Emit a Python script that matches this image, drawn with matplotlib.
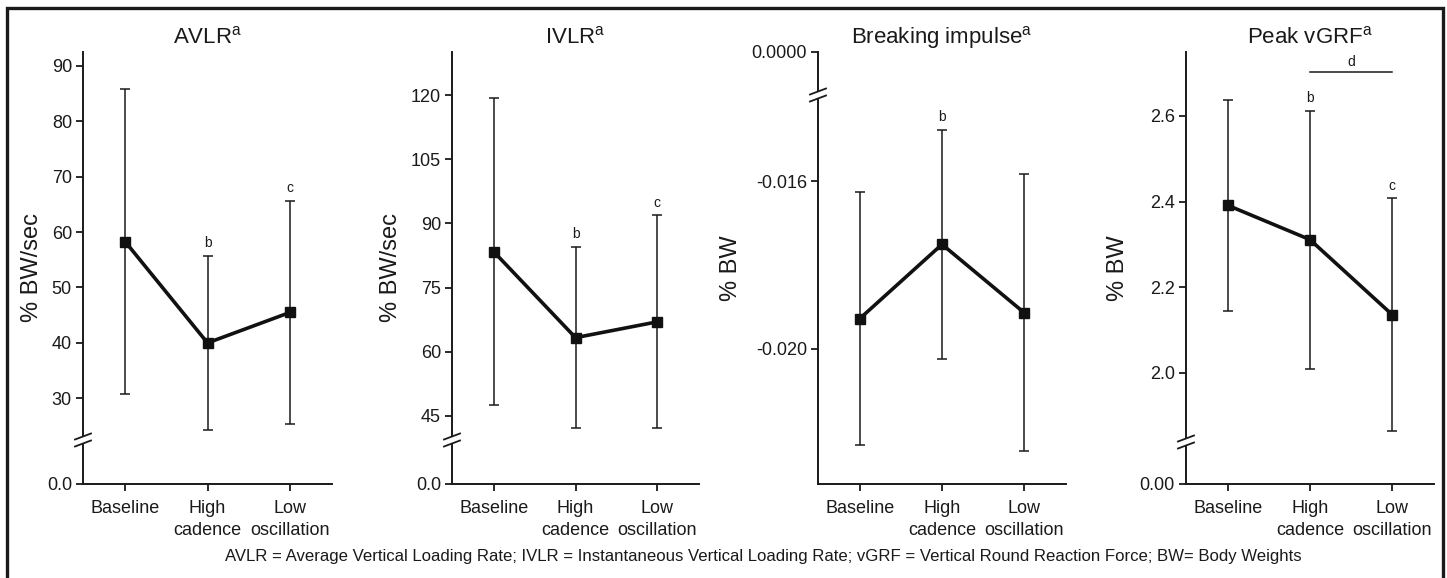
import numpy as np
import matplotlib.pyplot as plt
from matplotlib.lines import Line2D
from matplotlib.patches import Rectangle

plt.rcParams['font.family'] = ['Liberation Sans', 'DejaVu Sans']
plt.rcParams['mathtext.fontset'] = 'custom'
plt.rcParams['mathtext.rm'] = 'Liberation Sans'
plt.rcParams['axes.unicode_minus'] = False

INK = '#1a1a1a'

# conditions on the x axis
conditions = ["Baseline", "High\ncadence", "Low\noscillation"]

# mean and SD
avlr_mean = [58.3, 40.0, 45.5]
avlr_sd = [27.6, 15.7, 20.2]
ivlr_mean = [83.4, 63.3, 67.0]
ivlr_sd = [35.9, 21.2, 24.9]
brake_mean = [-0.01928, -0.01751, -0.01914]
brake_sd = [0.00303, 0.00273, 0.00330]
vgrf_mean = [2.391, 2.311, 2.136]
vgrf_sd = [0.246, 0.301, 0.272]

avlr_letters = ["", "b", "c"]
ivlr_letters = ["", "b", "c"]
brake_letters = ["", "b", ""]
vgrf_letters = ["", "b", "c"]
vgrf_bracket = 2.703  # "d" line between High cadence and Low oscillation

footnote = ("AVLR = Average Vertical Loading Rate; IVLR = Instantaneous Vertical Loading Rate; "
            "vGRF = Vertical Round Reaction Force; BW= Body Weights")

W, H = 1447, 578
fig = plt.figure(figsize=(W / 100, H / 100), dpi=100)


def rect(x0, x1, y0, y1):
    # pixel box (top-left origin) -> figure fraction
    return [x0 / W, 1 - y1 / H, (x1 - x0) / W, (y1 - y0) / H]


def style(ax, bottom=True):
    for s in ['top', 'right']:
        ax.spines[s].set_visible(False)
    ax.spines['left'].set_linewidth(1.4)
    ax.spines['bottom'].set_linewidth(1.4)
    ax.spines['left'].set_color(INK)
    ax.spines['bottom'].set_color(INK)
    if not bottom:
        ax.spines['bottom'].set_visible(False)
        ax.set_xticks([])
    ax.tick_params(direction='out', length=5, width=1.3, labelsize=13,
                   colors=INK, pad=3)
    ax.tick_params(axis='x', pad=6.5)
    ax.set_xlim(-0.51, 2.51)
    ax.patch.set_alpha(0)


def break_marks(xpx, ypx):
    for dy in (-3.5, 3.5):
        fig.add_artist(Line2D([(xpx - 8) / W, (xpx + 8) / W],
                              [1 - (ypx + dy + 3) / H, 1 - (ypx + dy - 3) / H],
                              color=INK, lw=1.3))


def draw_data(ax, mean, sd, letters):
    x = np.arange(len(mean))
    ax.errorbar(x, mean, yerr=sd, fmt='none', ecolor=INK, elinewidth=1.1,
                capsize=3.5, capthick=1.1)
    ax.plot(x, mean, '-s', color='#111111', lw=2.6, ms=6.5)
    for i, lab in enumerate(letters):
        if lab:
            ax.annotate(lab, (i, mean[i] + sd[i]), xytext=(0, 4),
                        textcoords='offset points', ha='center', va='bottom',
                        fontsize=10, color=INK)


def set_xcats(ax):
    ax.set_xticks(range(len(conditions)))
    ax.set_xticklabels(conditions, fontsize=13, linespacing=1.35)


def title(x0, x1, text):
    fig.text((x0 + x1) / 2 / W, 1 - 43 / H, text, ha='center', va='baseline',
             fontsize=16, color=INK)


def ylabel(xpx, text):
    fig.text(xpx / W, 1 - 268 / H, text, rotation=90, ha='center', va='center',
             fontsize=17, color=INK)


# ---- panel 1: AVLR (break near the bottom)
ax = fig.add_axes(rect(83, 332, 52, 436))
style(ax, bottom=False)
draw_data(ax, avlr_mean, avlr_sd, avlr_letters)
ax.set_ylim(23.2, 92.5)
ax.set_yticks([30, 40, 50, 60, 70, 80, 90])
stub = fig.add_axes(rect(83, 332, 444, 484))
style(stub)
stub.set_ylim(0, 1)
stub.set_yticks([0])
stub.set_yticklabels(["0.0"])
set_xcats(stub)
break_marks(83, 440)
title(83, 332, r'AVLR$^{\rm a}$')
ylabel(32, '% BW/sec')

# ---- panel 2: IVLR
ax = fig.add_axes(rect(452, 699, 52, 436))
style(ax, bottom=False)
draw_data(ax, ivlr_mean, ivlr_sd, ivlr_letters)
ax.set_ylim(40.3, 130.1)
ax.set_yticks([45, 60, 75, 90, 105, 120])
stub = fig.add_axes(rect(452, 699, 444, 484))
style(stub)
stub.set_ylim(0, 1)
stub.set_yticks([0])
stub.set_yticklabels(["0.0"])
set_xcats(stub)
break_marks(452, 440)
title(452, 699, r'IVLR$^{\rm a}$')
ylabel(391, '% BW/sec')

# ---- panel 3: Breaking impulse (break near the top)
ax = fig.add_axes(rect(818, 1066, 99, 484))
style(ax)
draw_data(ax, brake_mean, brake_sd, brake_letters)
ax.set_ylim(-0.02323, -0.01404)
ax.set_yticks([-0.020, -0.016])
ax.set_yticklabels(["-0.020", "-0.016"])
set_xcats(ax)
stub = fig.add_axes(rect(818, 1066, 52, 91))
style(stub, bottom=False)
stub.set_ylim(-1, 0)
stub.set_yticks([0])
stub.set_yticklabels(["0.0000"])
break_marks(818, 95)
title(818, 1066, r'Breaking impulse$^{\rm a}$')
ylabel(731, '% BW')

# ---- panel 4: Peak vGRF
ax = fig.add_axes(rect(1186, 1434, 52, 438))
style(ax, bottom=False)
draw_data(ax, vgrf_mean, vgrf_sd, vgrf_letters)
ax.plot([1, 2], [vgrf_bracket, vgrf_bracket], color=INK, lw=1.1)
ax.annotate('d', (1.5, vgrf_bracket), xytext=(0, 2), textcoords='offset points',
            ha='center', va='bottom', fontsize=10, color=INK)
ax.set_ylim(1.848, 2.749)
ax.set_yticks([2.0, 2.2, 2.4, 2.6])
ax.set_yticklabels(["2.0", "2.2", "2.4", "2.6"])
stub = fig.add_axes(rect(1186, 1434, 446, 484))
style(stub)
stub.set_ylim(0, 1)
stub.set_yticks([0])
stub.set_yticklabels(["0.00"])
set_xcats(stub)
break_marks(1186, 442)
title(1186, 1434, r'Peak vGRF$^{\rm a}$')
ylabel(1118, '% BW')

fig.text(763 / W, 1 - 557 / H, footnote, ha='center', va='center',
         fontsize=12.1, color=INK)

# frame around the whole figure
fig.add_artist(Rectangle((7 / W, -0.05), (1443 - 7) / W, 1.05 - 8 / H,
                         transform=fig.transFigure, fill=False,
                         lw=2.4, edgecolor=INK))

fig.savefig('out.png', dpi=100)
